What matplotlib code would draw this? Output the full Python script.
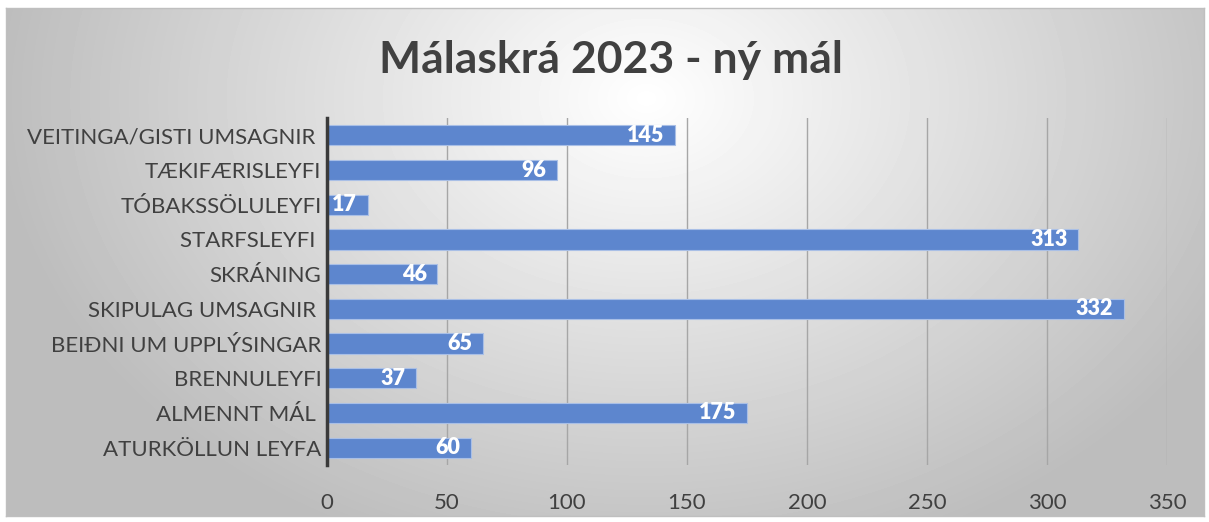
import numpy as np
import matplotlib.pyplot as plt

# Gögn
categories = ["VEITINGA/GISTI UMSAGNIR ", "TÆKIFÆRISLEYFI", "TÓBAKSSÖLULEYFI", "STARFSLEYFI ",
              "SKRÁNING", "SKIPULAG UMSAGNIR ", "BEIÐNI UM UPPLÝSINGAR", "BRENNULEYFI",
              "ALMENNT MÁL ", "ATURKÖLLUN LEYFA"]
values = [145, 96, 17, 313, 46, 332, 65, 37, 175, 60]
xticks = [0, 50, 100, 150, 200, 250, 300, 350]
title = "Málaskrá 2023 - ný mál"

plt.rcParams['font.family'] = ['Lato', 'DejaVu Sans']

W, H = 1209, 522
fig = plt.figure(figsize=(W / 100, H / 100), dpi=100)
fig.patch.set_facecolor('white')

# Bakgrunnur með geislalaga litbrigðum
bg = fig.add_axes([6 / W, 1 - 516 / H, (1204 - 6) / W, (516 - 8) / H])
yy, xx = np.mgrid[0:508, 0:1198]
d = np.sqrt(((xx - 640) / 700.0) ** 2 + ((yy - 90) / 520.0) ** 2)
shade = np.clip(1.0 - 0.28 * d, 0.74, 1.0)
bg.imshow(shade, cmap='gray', vmin=0, vmax=1, aspect='auto', interpolation='bilinear')
bg.set_xticks([])
bg.set_yticks([])
for s in bg.spines.values():
    s.set_color('#bfbfbf')
    s.set_linewidth(1)

# Aðalás
ax = fig.add_axes([327 / W, 1 - 465 / H, (1167 - 327) / W, 347 / H])
ax.patch.set_alpha(0)
y = np.arange(len(categories))
bars = ax.barh(y, values, height=0.58, color='#5d86ce', edgecolor='#a9bfe6', linewidth=0.8, zorder=3)
ax.set_xlim(0, 350)
ax.set_ylim(len(categories) - 0.5, -0.5)
ax.set_yticks(y)
ax.set_yticklabels(categories, fontsize=16, color='#404040')
ax.set_xticks(xticks)
ax.set_xticklabels([str(t) for t in xticks], fontsize=16, color='#404040')
ax.tick_params(axis='both', length=0)
ax.tick_params(axis='y', pad=4)
ax.tick_params(axis='x', pad=20)
ax.grid(axis='x', color='#a6a6a6', linewidth=1, zorder=0)
for s in ['top', 'right', 'bottom']:
    ax.spines[s].set_visible(False)
ax.spines['left'].set_color('#3a3a3a')
ax.spines['left'].set_linewidth(2.5)
ax.spines['left'].set_zorder(4)

for b, v in zip(bars, values):
    ax.text(v - 4.5, b.get_y() + b.get_height() / 2, str(v), ha='right', va='center',
            color='white', fontsize=15.5, fontweight='heavy', zorder=5)

fig.text(611 / W, 1 - 60 / H, title, ha='center', va='center', fontsize=32,
         fontweight='bold', color='#404040')

fig.savefig('out.png', dpi=100)
